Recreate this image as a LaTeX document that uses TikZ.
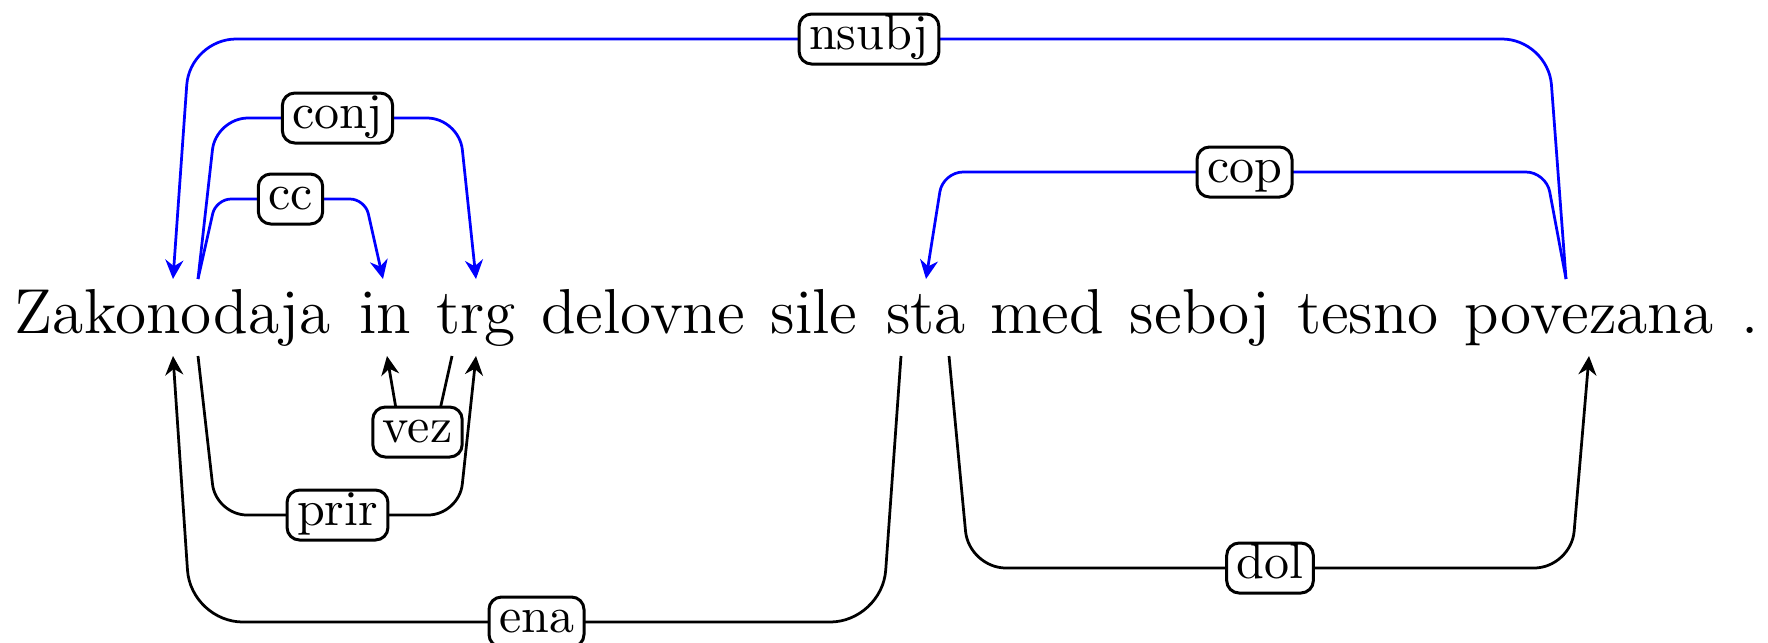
\documentclass[tikz,border=0pt]{standalone}
\usetikzlibrary{calc,arrows.meta}
\begin{document}
\begin{tikzpicture}[x=0.2pt,y=-0.2pt,
  word/.style={anchor=base, inner sep=0pt, text height=10.6pt, text depth=4.4pt, font=\fontsize{12.7}{15}\selectfont},
  lab/.style={draw=black, text=black, fill=white, rounded corners=2.5pt, line width=0.6pt, inner xsep=2pt, inner ysep=2pt, text height=5pt, text depth=1pt, font=\fontsize{10}{12}\selectfont},
  dep/.style={line width=0.55pt, -{Stealth[length=3.8pt,width=3.6pt]}},
  up/.style={dep, blue},
  down/.style={dep, black}]
\useasboundingbox (0,0) rectangle (1768,642);
% words
\node[word] (w1) at (173,333) {Zakonodaja};
\node[word] (w2) at (385,333) {in};
\node[word] (w3) at (476,333) {trg};
\node[word] (w4) at (643,333) {delovne};
\node[word] (w5) at (814,333) {sile};
\node[word] (w6) at (926,333) {sta};
\node[word] (w7) at (1047,333) {med};
\node[word] (w8) at (1200,333) {seboj};
\node[word] (w9) at (1368,333) {tesno};
\node[word] (w10) at (1589,333) {povezana};
\node[word] (w11) at (1750,333) {.};
% levels
\coordinate (Lnsubj) at (0,39);
\coordinate (Lconj) at (0,118);
\coordinate (Lcop) at (0,172);
\coordinate (Lcc) at (0,199);
\coordinate (Lvez) at (0,432);
\coordinate (Lprir) at (0,515);
\coordinate (Ldol) at (0,568);
\coordinate (Lena) at (0,622);
% edges above
\draw[up, rounded corners=9.2pt] ($(w10.north)+(-23,0)$) -- ($(w10.north|-Lnsubj)+(-41,0)$)
  -- node[lab] (l-nsubj) {nsubj} ($(w1.north|-Lnsubj)+(17,0)$) -- (w1.north);
\draw[up, rounded corners=6.4pt] ($(w1.north)+(25,0)$) -- ($(w1.north|-Lconj)+(43,0)$)
  -- node[lab] (l-conj) {conj} ($(w3.north|-Lconj)+(-17,0)$) -- (w3.north);
\draw[up, rounded corners=3pt] ($(w1.north)+(25,0)$) -- ($(w1.north|-Lcc)+(43,0)$)
  -- node[lab] (l-cc) {cc} ($(w2.north|-Lcc)+(-20,0)$) -- ($(w2.north)+(-2,0)$);
\draw[up, rounded corners=4pt] ($(w10.north)+(-23,0)$) -- ($(w10.north|-Lcop)+(-43,0)$)
  -- node[lab] (l-cop) {cop} ($(w6.north|-Lcop)+(17,0)$) -- (w6.north);
% edges below
\draw[down, rounded corners=3pt] ($(w3.south)+(-24,0)$) -- ($(w3.south|-Lvez)+(-41,0)$)
  -- node[lab] (l-vez) {vez} ($(w2.south|-Lvez)+(15,0)$) -- ($(w2.south)+(2,0)$);
\draw[down, rounded corners=6.2pt] ($(w1.south)+(25,0)$) -- ($(w1.south|-Lprir)+(43,0)$)
  -- node[lab] (l-prir) {prir} ($(w3.south|-Lprir)+(-17,0)$) -- (w3.south);
\draw[down, rounded corners=10.4pt] ($(w6.south)+(-25,0)$) -- ($(w6.south|-Lena)+(-44,0)$)
  -- node[lab] (l-ena) {ena} ($(w1.south|-Lena)+(18,0)$) -- (w1.south);
\draw[down, rounded corners=7.4pt] ($(w6.south)+(23,0)$) -- ($(w6.south|-Ldol)+(43,0)$)
  -- node[lab] (l-dol) {dol} ($(w10.south|-Ldol)+(-18,0)$) -- (w10.south);
\end{tikzpicture}
\end{document}
